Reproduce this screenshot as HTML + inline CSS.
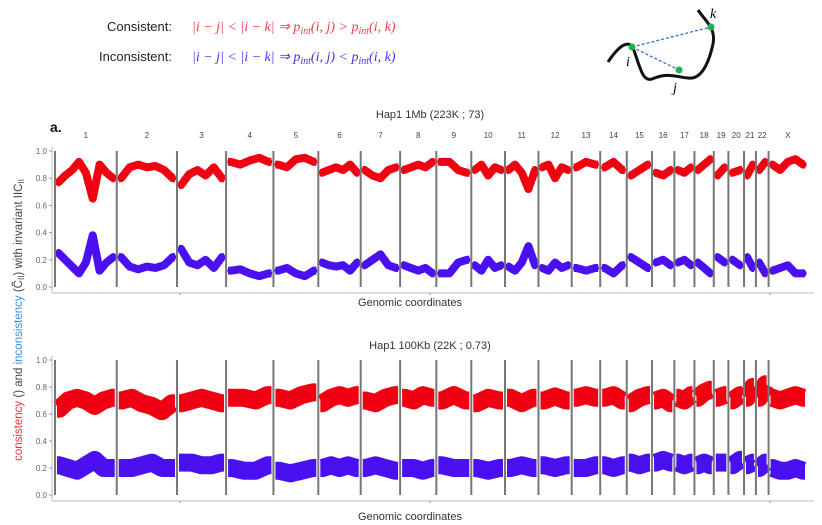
<!DOCTYPE html>
<html><head><meta charset="utf-8"><style>
html,body{margin:0;padding:0;background:#fff;}
svg{display:block;font-family:"Liberation Sans",sans-serif;}
</style></head><body>
<svg id="fig" width="822" height="525" viewBox="0 0 822 525" xmlns="http://www.w3.org/2000/svg">
<g>
<text x="172" y="31" font-size="13" fill="#222" text-anchor="end">Consistent:</text>
<text x="192" y="31" font-size="14" fill="#f23a4a" font-family="Liberation Serif,serif" font-style="italic">|i − j| &lt; |i − k| ⇒ p<tspan font-size="10" dy="3">int</tspan><tspan dy="-3">(i, j) &gt; p</tspan><tspan font-size="10" dy="3">int</tspan><tspan dy="-3">(i, k)</tspan></text>
<text x="172" y="61" font-size="13" fill="#222" text-anchor="end">Inconsistent:</text>
<text x="192" y="61" font-size="14" fill="#4b2ff0" font-family="Liberation Serif,serif" font-style="italic">|i − j| &lt; |i − k| ⇒ p<tspan font-size="10" dy="3">int</tspan><tspan dy="-3">(i, j) &lt; p</tspan><tspan font-size="10" dy="3">int</tspan><tspan dy="-3">(i, k)</tspan></text>
</g>
<g>
<path d="M698,10 C706,22 716,28 713,44 C709,62 702,80 688,78 C676,77 668,72 652,79 C642,82 640,66 633,48 C629,40 620,44 608,62" fill="none" stroke="#111" stroke-width="3"/>
<line x1="632" y1="47" x2="711" y2="27" stroke="#3a6fc9" stroke-width="1.3" stroke-dasharray="3,2"/>
<line x1="632" y1="47" x2="679" y2="70" stroke="#3a6fc9" stroke-width="1.3" stroke-dasharray="3,2"/>
<circle cx="632" cy="47" r="3.5" fill="#1fb34a"/><circle cx="711" cy="27" r="3.5" fill="#1fb34a"/><circle cx="679" cy="70" r="3.5" fill="#1fb34a"/>
<text x="626" y="66" font-size="14" font-style="italic" font-family="Liberation Serif,serif">i</text>
<text x="673" y="92" font-size="14" font-style="italic" font-family="Liberation Serif,serif">j</text>
<text x="710" y="18" font-size="14" font-style="italic" font-family="Liberation Serif,serif">k</text>
</g>
<text x="50" y="132" font-size="14" font-weight="bold" fill="#111">a.</text>
<text transform="translate(22,320) rotate(-90)" font-size="11.5" text-anchor="middle"><tspan fill="#f0303a">consistency</tspan><tspan fill="#444"> () and </tspan><tspan fill="#3a8fd8">inconsistency</tspan><tspan fill="#444"> (C̃</tspan><tspan fill="#444" font-size="8" dy="2">II</tspan><tspan fill="#444" dy="-2">) with invariant IIC</tspan><tspan fill="#444" font-size="8" dy="2">II</tspan></text>
<g id="top"></g>
<g id="bot"></g>
</svg>
<script>
const chromNames=["1","2","3","4","5","6","7","8","9","10","11","12","13","14","15","16","17","18","19","20","21","22","X"];
const chromSizesMb=[249,243,198,191,181,171,159,146,141,136,135,134,115,107,102,90,81,78,59,63,48,51,155];
const yTicks=[0,0.2,0.4,0.6,0.8,1.0];
const yTickLabels=["0.0","0.2","0.4","0.6","0.8","1.0"];
const topRed=[[0.77,0.82,0.86,0.92,0.84,0.65,0.90,0.84,0.80],[0.80,0.88,0.90,0.88,0.89,0.86,0.80],[0.75,0.83,0.86,0.82,0.88,0.80],[0.92,0.90,0.93,0.95,0.92],[0.90,0.88,0.94,0.95,0.92],[0.84,0.86,0.88,0.86,0.90,0.84],[0.86,0.82,0.80,0.86,0.88],[0.86,0.88,0.90,0.88,0.92],[0.92,0.92,0.86,0.84],[0.86,0.90,0.82,0.88,0.86],[0.86,0.90,0.84,0.72,0.86],[0.88,0.90,0.80,0.88,0.86],[0.88,0.92,0.90],[0.88,0.92,0.86],[0.82,0.86,0.90],[0.84,0.82,0.86],[0.86,0.84,0.88],[0.86,0.90,0.94],[0.82,0.88],[0.84,0.86],[0.82,0.90],[0.86,0.92],[0.90,0.86,0.92,0.94,0.90]];
const topBlue=[[0.25,0.20,0.15,0.10,0.18,0.38,0.12,0.18,0.22],[0.22,0.15,0.13,0.15,0.14,0.16,0.22],[0.28,0.18,0.16,0.20,0.14,0.22],[0.12,0.13,0.10,0.08,0.10],[0.12,0.14,0.10,0.08,0.12],[0.18,0.16,0.15,0.16,0.12,0.18],[0.16,0.20,0.24,0.16,0.14],[0.16,0.14,0.12,0.14,0.10],[0.10,0.10,0.18,0.20],[0.16,0.12,0.20,0.14,0.16],[0.15,0.12,0.18,0.30,0.16],[0.14,0.12,0.18,0.14,0.16],[0.14,0.12,0.14],[0.14,0.10,0.16],[0.22,0.18,0.14],[0.18,0.20,0.16],[0.18,0.20,0.16],[0.18,0.14,0.10],[0.22,0.18],[0.20,0.16],[0.22,0.14],[0.18,0.10],[0.12,0.14,0.16,0.10,0.10]];
const botRed=[[0.64,0.70,0.72,0.70,0.66,0.70,0.72],[0.70,0.72,0.68,0.66,0.62,0.68],[0.68,0.70,0.72,0.70,0.68],[0.72,0.72,0.70,0.74],[0.72,0.70,0.74,0.76],[0.68,0.72,0.74,0.72,0.74],[0.70,0.68,0.72,0.74],[0.72,0.70,0.74,0.72],[0.70,0.74,0.70],[0.68,0.72,0.70],[0.72,0.68,0.72],[0.70,0.73,0.70],[0.72,0.74,0.72],[0.72,0.74,0.70],[0.68,0.72,0.74],[0.70,0.72,0.68],[0.72,0.70,0.74],[0.72,0.76,0.78],[0.72,0.74],[0.70,0.74],[0.72,0.80],[0.72,0.82],[0.72,0.70,0.72,0.74,0.72]];
const botBlue=[[0.22,0.20,0.18,0.22,0.26,0.20,0.20],[0.20,0.20,0.22,0.24,0.20,0.20],[0.24,0.24,0.22,0.22,0.24],[0.20,0.18,0.18,0.22],[0.18,0.16,0.18,0.20],[0.20,0.22,0.20,0.22,0.20],[0.20,0.22,0.20,0.18],[0.20,0.20,0.18,0.20],[0.22,0.20,0.20],[0.20,0.18,0.20],[0.20,0.22,0.20],[0.22,0.20,0.22],[0.20,0.20,0.22],[0.22,0.20,0.22],[0.24,0.22,0.24],[0.24,0.26,0.24],[0.24,0.22,0.24],[0.22,0.24,0.22],[0.24,0.24],[0.22,0.26],[0.22,0.24],[0.20,0.24],[0.20,0.18,0.18,0.20,0.18]];
const NS='http://www.w3.org/2000/svg';
const total=chromSizesMb.reduce((a,b)=>a+b,0);
const starts=[];let acc=0;chromSizesMb.forEach(s=>{starts.push(acc);acc+=s;});
const X0=55,X1=807;
function xs(mb){return X0+(mb/total)*(X1-X0);}
function mk(tag,at,parent){const e=document.createElementNS(NS,tag);for(const k in at)e.setAttribute(k,at[k]);parent.appendChild(e);return e;}
function panel(gid,yTop,yBot,title,titleY,xlabY,red,blue,labels,bw,dotR){
  const g=document.getElementById(gid);
  const ys=v=>yBot-v*(yBot-yTop);
  const t=mk('text',{x:430,y:titleY,'font-size':11,fill:'#333','text-anchor':'middle'},g);t.textContent=title;
  
  
  const ax=mk('line',{x1:52,y1:yTop-4,x2:52,y2:yBot+6,stroke:'#bbb','stroke-width':1},g);
  
  
  const bx=mk('line',{x1:52,y1:yBot+6,x2:814,y2:yBot+6,stroke:'#bbb','stroke-width':1},g);
  
  
  [180,430,770].forEach(x=>mk('line',{x1:x,y1:yBot+6,x2:x,y2:yBot+8,stroke:'#999'},g));
  yTicks.forEach((v,i)=>{
    mk('line',{x1:49,y1:ys(v),x2:52,y2:ys(v),stroke:'#999'},g);
    const tl=mk('text',{x:47,y:ys(v)+3,'font-size':8,fill:'#666','text-anchor':'end'},g);tl.textContent=yTickLabels[i];
    
    
  });
  const xl=mk('text',{x:410,y:xlabY,'font-size':11,fill:'#333','text-anchor':'middle'},g);xl.textContent='Genomic coordinates';
  
  
  chromSizesMb.forEach((s,c)=>{
    [[red[c],'#f00010'],[blue[c],'#4a10f0']].forEach(([vals,col])=>{
      const n=vals.length;
      const pts=vals.map((v,i)=>[xs(starts[c]+(i+0.5)/n*s),ys(v)]);
      pts.unshift([xs(starts[c])+2,pts[0][1]]);pts.push([xs(starts[c]+s)-2,pts[pts.length-1][1]]);
      const pl=mk('polyline',{points:pts.map(p=>p.join(',')).join(' '),fill:'none',stroke:col,'stroke-width':bw,'stroke-linejoin':'round','stroke-linecap':'butt'},g);
      
      
      if(dotR>0)vals.forEach((v,i)=>{const d=mk('circle',{cx:xs(starts[c]+(i+0.5)/n*s),cy:ys(v),r:dotR,fill:col},g);
        
        });
    });
  });
  chromSizesMb.forEach((s,c)=>{
    const x=xs(starts[c]);
    const b=mk('line',{x1:x,y1:yTop,x2:x,y2:yBot,stroke:'#777','stroke-width':2},g);
    
    
    if(labels){const l=mk('text',{x:xs(starts[c]+s/2),y:yTop-13,'font-size':8,fill:'#444','text-anchor':'middle'},g);l.textContent=chromNames[c];
      
      }
  });
}
panel('top',151,287,'Hap1 1Mb (223K ; 73)',118,306,topRed,topBlue,true,8,3.5);
panel('bot',360,495,'Hap1 100Kb (22K ; 0.73)',349,520,botRed,botBlue,false,18,0);
</script>
</body></html>
